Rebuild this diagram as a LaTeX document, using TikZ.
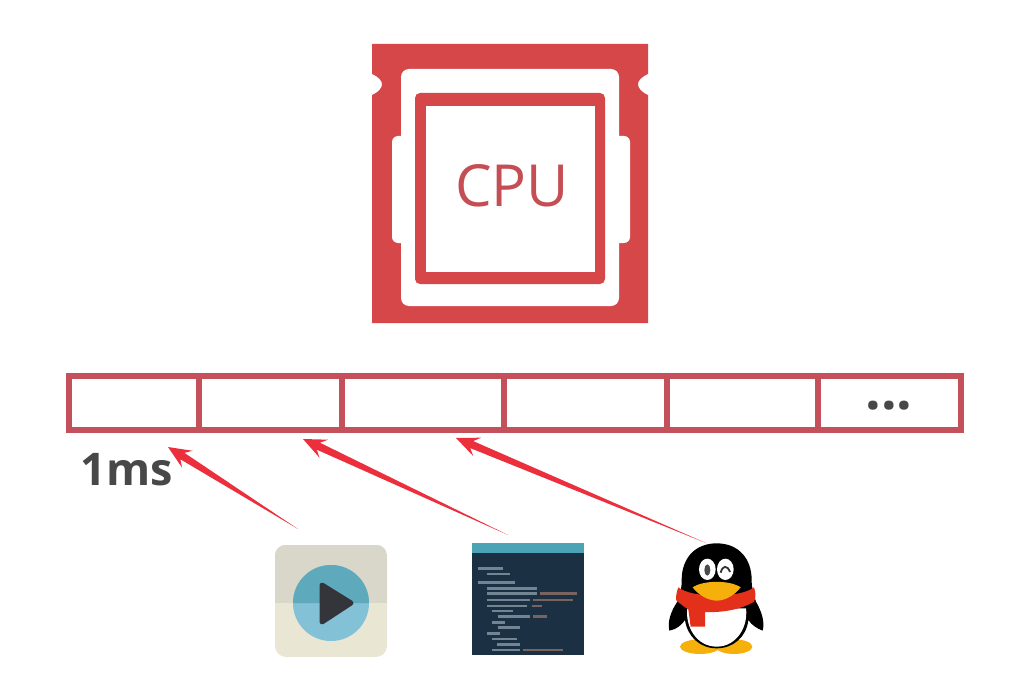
\documentclass[tikz,border=0pt]{standalone}
\usepackage{fontspec}
\setmainfont{Open Sans}
\usepackage{tikz}
\usetikzlibrary{calc,positioning}

\definecolor{cpured}{HTML}{D6474A}
\definecolor{cputext}{HTML}{C44E54}
\definecolor{slotred}{HTML}{C4505C}
\definecolor{arrowred}{HTML}{EC2F3C}
\definecolor{msgray}{HTML}{484848}
\definecolor{playtop}{HTML}{D9D6CA}
\definecolor{playlow}{HTML}{E9E6D4}
\definecolor{discotop}{HTML}{5FA9BD}
\definecolor{discolow}{HTML}{82C1D6}
\definecolor{playdark}{HTML}{33353B}
\definecolor{codebody}{HTML}{1B3042}
\definecolor{codehead}{HTML}{4BA4B6}
\definecolor{codeline}{HTML}{8FA3AE}
\definecolor{codewarm}{HTML}{9A7468}
\definecolor{qqyellow}{HTML}{F6B00C}
\definecolor{qqred}{HTML}{E3301A}

\tikzset{
  slot/.style={draw=slotred, line width=6pt, minimum height=54pt, inner sep=0pt, outer sep=0pt},
  codestroke/.style={line width=2.6pt, draw opacity=0.75}
}

% thin tail, wide swept head
\newcommand{\taperarrow}[2]{
  \fill[arrowred] (#1)
    -- ($(#2)!17pt!(#1)!3.8pt!90:(#1)$)
    -- ($(#2)!23pt!(#1)!10pt!90:(#1)$)
    -- (#2)
    -- ($(#2)!23pt!(#1)!10pt!-90:(#1)$)
    -- ($(#2)!17pt!(#1)!3.8pt!-90:(#1)$)
    -- cycle;
}

\begin{document}
\begin{tikzpicture}[x=1pt, y=-1pt, node distance=0pt]
\useasboundingbox (0,0) rectangle (1033,679);

% cpu package
\fill[cpured] (372,44) -- (648,44) -- (648,74)
  .. controls (641,77) and (638,81) .. (638,84)
  .. controls (638,88) and (641,92) .. (648,95)
  -- (648,323) -- (372,323) -- (372,95)
  .. controls (379,92) and (382,88) .. (382,84)
  .. controls (382,81) and (379,77) .. (372,74) -- cycle;
\fill[white, rounded corners=8pt] (401,69) rectangle (619,306);
\fill[white, rounded corners=6pt] (392,136) rectangle (630,243);
\fill[cpured, rounded corners=5pt] (415,93) rectangle (605,284);
\fill[white] (426,106) rectangle (595,272);
\node (cpulabel) at (512,186) [text=cputext, font=\fontsize{58}{58}\selectfont] {CPU};

% time slices
\node (slice1) at (69,403) [slot, anchor=west, minimum width=130pt] {};
\node (slice2) [slot, right=of slice1, minimum width=143pt] {};
\node (slice3) [slot, right=of slice2, minimum width=162pt] {};
\node (slice4) [slot, right=of slice3, minimum width=163pt] {};
\node (slice5) [slot, right=of slice4, minimum width=151pt] {};
\node (slice6) [slot, right=of slice5, minimum width=143pt] {};
\node (dots) at (889,409) [anchor=base, text=msgray, font=\bfseries\fontsize{55}{55}\selectfont, inner sep=0pt] {...};

\node (onems) at (127,485) [anchor=base, text=msgray, font=\bfseries\fontsize{45}{45}\selectfont, inner sep=0pt] {1ms};

% play icon
\node (playicon) at (331,601) [minimum size=112pt, inner sep=0pt, rounded corners=11pt, fill=playlow] {};
\begin{scope}
\clip[rounded corners=11pt] (playicon.south west) rectangle (playicon.north east);
\fill[playtop] (275,545) rectangle (387,603);
\end{scope}
\fill[discolow] (331,603) circle [radius=38];
\fill[discotop] (293,603) arc [start angle=180, end angle=360, radius=38] -- cycle;
\fill[draw=playdark, fill=playdark, line width=5pt, line join=round]
  (322,585) -- (351,603) -- (322,622) -- cycle;

% code icon
\node (codeicon) at (528,599) [minimum width=112pt, minimum height=112pt, inner sep=0pt, fill=codebody] {};
\fill[codehead] (472,543) rectangle (584,553);
\begin{scope}[shift={(260,530)}, x=0.3333pt, y=-0.3333pt]
 \foreach \ya/\xa/\xb in {115/655/730, 132/680/750, 158/655/765, 175/680/830, 190/680/830,
   210/680/810, 228/680/800, 243/695/760, 260/715/810, 277/695/735, 293/715/780,
   310/680/720, 327/695/770, 343/710/780, 360/695/780}
  {
    \draw[codeline, codestroke] (\xa,\ya) -- (\xb,\ya);
  }
 \foreach \ya/\xa/\xb in {190/840/950, 210/820/940, 228/815/845, 260/820/860, 360/790/910}
  {
    \draw[codewarm, codestroke] (\xa,\ya) -- (\xb,\ya);
  }
\end{scope}

% penguin
\coordinate (qqtop) at (706,543);
\begin{scope}[shift={(650,530)}, x=0.3333pt, y=-0.3333pt]
 \fill[qqyellow] (150,350) circle [x radius=60, y radius=22];
 \fill[qqyellow] (252,350) circle [x radius=55, y radius=22];
 % black body with flippers
 \fill[black] (200,40) .. controls (265,40) and (305,85) .. (305,150)
   .. controls (305,175) and (310,190) .. (318,215)
   .. controls (335,245) and (345,275) .. (338,302)
   .. controls (320,295) and (305,285) .. (295,270)
   .. controls (290,320) and (250,355) .. (200,355)
   .. controls (150,355) and (112,320) .. (105,270)
   .. controls (95,285) and (80,298) .. (58,302)
   .. controls (52,275) and (62,245) .. (82,215)
   .. controls (92,190) and (95,175) .. (95,150)
   .. controls (95,85) and (135,40) .. (200,40) -- cycle;
 % belly
 \fill[white] (112,235) .. controls (105,290) and (140,350) .. (200,350)
   .. controls (260,350) and (295,290) .. (288,235) -- cycle;
 % eyes
 \fill[white] (172,118) circle [x radius=25, y radius=32];
 \fill[white] (226,118) circle [x radius=25, y radius=32];
 \fill[black!70] (172,120) circle [x radius=9, y radius=17];
 \draw[black!80, line width=1.8pt] (212,128) .. controls (218,105) and (232,105) .. (240,126);
 % scarf
 \fill[qqred] (85,172) .. controls (125,205) and (270,205) .. (312,172)
   .. controls (318,190) and (318,205) .. (312,215)
   .. controls (270,240) and (215,248) .. (165,246)
   -- (165,290) -- (122,290) -- (115,238)
   .. controls (105,232) and (90,222) .. (78,210)
   .. controls (78,195) and (80,185) .. (85,172) -- cycle;
 % beak
 \fill[qqyellow] (128,172) .. controls (160,150) and (240,150) .. (272,172)
   .. controls (255,195) and (225,212) .. (200,212)
   .. controls (175,212) and (145,195) .. (128,172) -- cycle;
\end{scope}

% arrows from the icons to the slices
\coordinate (tip1) at (168,447);
\coordinate (tip2) at (303,439);
\coordinate (tip3) at (456,438);
\coordinate (tail1) at (298,529);
\coordinate (tail2) at (508,535);
\taperarrow{tail1}{tip1}
\taperarrow{tail2}{tip2}
\taperarrow{qqtop}{tip3}

\end{tikzpicture}
\end{document}
